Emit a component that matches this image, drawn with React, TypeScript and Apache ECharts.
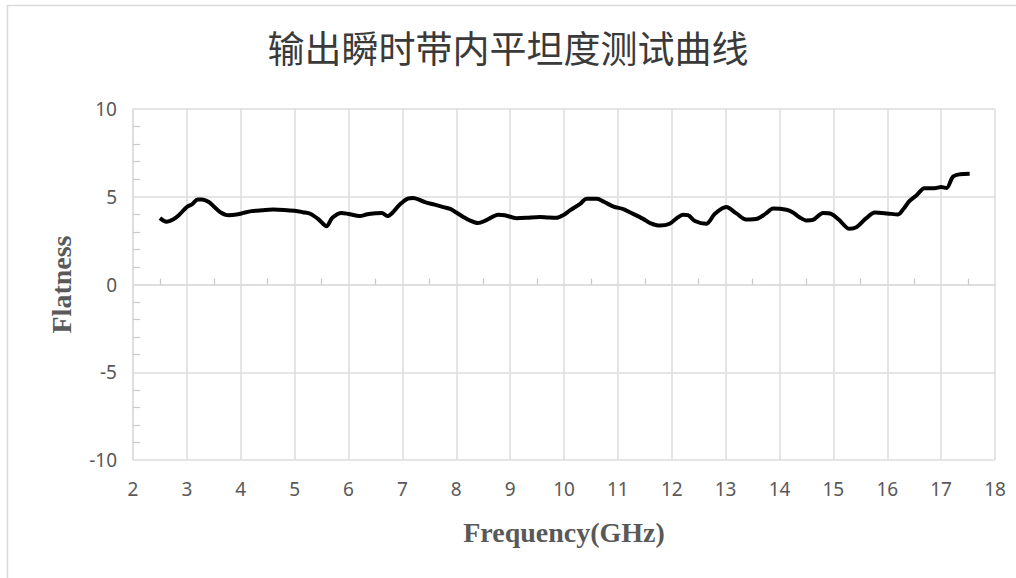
import React, { useEffect, useRef } from "react";
import * as echarts from "echarts";

const titleText = "输出瞬时带内平坦度测试曲线";
const xName = "Frequency(GHz)";
const yName = "Flatness";

const freq = [
  2.5, 2.62, 2.75, 2.85, 3.0, 3.1, 3.2, 3.28, 3.4, 3.5, 3.62, 3.77, 3.95, 4.05, 4.2, 4.4, 4.6, 4.8,
  5.0, 5.15, 5.3, 5.45, 5.59, 5.7, 5.87, 6.0, 6.21, 6.35, 6.52, 6.62, 6.72, 6.82, 6.95, 7.1, 7.2,
  7.42, 7.6, 7.76, 7.9, 8.0, 8.13, 8.25, 8.4, 8.55, 8.78, 8.9, 9.12, 9.3, 9.55, 9.7, 9.86, 10.0,
  10.11, 10.3, 10.42, 10.61, 10.75, 10.92, 11.1, 11.22, 11.47, 11.6, 11.78, 11.96, 12.1, 12.21,
  12.3, 12.43, 12.64, 12.8, 13.01, 13.2, 13.38, 13.6, 13.75, 13.88, 14.13, 14.25, 14.37, 14.5,
  14.62, 14.81, 14.96, 15.1, 15.3, 15.43, 15.6, 15.77, 16.0, 16.2, 16.3, 16.41, 16.55, 16.69,
  16.88, 17.0, 17.1, 17.22, 17.35, 17.53,
];

const flatness = [
  3.78, 3.58, 3.72, 3.95, 4.42, 4.58, 4.85, 4.85, 4.72, 4.45, 4.12, 3.95, 4.0, 4.08, 4.18, 4.23, 4.27, 4.25,
  4.2, 4.12, 4.02, 3.7, 3.32, 3.8, 4.08, 4.02, 3.9, 4.0, 4.06, 4.08, 3.9, 4.1, 4.55, 4.9, 4.93,
  4.69, 4.55, 4.41, 4.3, 4.1, 3.85, 3.65, 3.5, 3.65, 3.98, 3.95, 3.78, 3.8, 3.85, 3.82, 3.8, 3.98,
  4.22, 4.6, 4.88, 4.88, 4.7, 4.44, 4.3, 4.12, 3.74, 3.5, 3.36, 3.46, 3.8, 3.97,
  3.95, 3.62, 3.46, 4.03, 4.41, 4.05, 3.7, 3.76, 4.05, 4.33, 4.26, 4.1, 3.83, 3.65,
  3.68, 4.08, 4.03, 3.7, 3.17, 3.27, 3.75, 4.1, 4.05, 3.99, 4.3, 4.75, 5.1, 5.49,
  5.49, 5.55, 5.5, 6.15, 6.28, 6.31,
];

const xMin = 2;
const xMax = 18;
const xStep = 1;
const yMin = -10;
const yMax = 10;
const yStep = 5;

export default function App() {
  const ref = useRef<HTMLDivElement>(null);

  useEffect(() => {
    if (!ref.current) return;
    const chart = echarts.init(ref.current, null, { renderer: "svg" });
    const gridColor = "#dcdcdc";
    const labelColor = "#595959";
    chart.setOption({
      animation: false,
      backgroundColor: "#ffffff",
      title: {
        text: titleText,
        left: "center",
        top: 23,
        textStyle: {
          fontFamily: "Noto Sans CJK SC",
          fontSize: 37,
          fontWeight: "normal",
          color: "#3a3a3a",
        },
      },
      graphic: [
        {
          type: "rect",
          shape: { x: 7.5, y: 5.5, width: 1030, height: 600 },
          style: { fill: "none", stroke: "#d9d9d9", lineWidth: 1.5 },
          silent: true,
        },
      ],
      grid: { left: 133, right: 21, top: 109, bottom: 118 },
      xAxis: [
        {
          type: "value",
          min: xMin,
          max: xMax,
          interval: xStep,
          position: "bottom",
          axisLine: { show: false, onZero: false },
          axisTick: { show: false },
          axisLabel: {
            margin: 19,
            fontFamily: "Noto Sans",
            fontSize: 19,
            color: labelColor,
          },
          splitLine: { show: true, lineStyle: { color: gridColor, width: 1.5 } },
          name: xName,
          nameLocation: "middle",
          nameGap: 58,
          nameTextStyle: {
            fontFamily: "Liberation Serif",
            fontWeight: "bold",
            fontSize: 28,
            color: labelColor,
          },
        },
        {
          type: "value",
          min: xMin,
          max: xMax,
          interval: xStep,
          position: "bottom",
          axisLine: { show: true, onZero: true, lineStyle: { color: gridColor, width: 1.5 } },
          axisTick: { show: false, inside: true },
          minorTick: { show: true, splitNumber: 2, length: 6, lineStyle: { color: "#c8c8c8", width: 1.2 } },
          axisLabel: { show: false },
          splitLine: { show: false },
        },
      ],
      yAxis: {
        type: "value",
        min: yMin,
        max: yMax,
        interval: yStep,
        axisLine: { show: true, onZero: false, lineStyle: { color: gridColor, width: 1.5 } },
        axisTick: { show: false, inside: true },
        minorTick: { show: true, splitNumber: 5, length: 7, lineStyle: { color: "#c8c8c8", width: 1.2 } },
        axisLabel: {
          margin: 16,
          fontFamily: "Noto Sans",
          fontSize: 19,
          color: labelColor,
        },
        splitLine: { show: true, lineStyle: { color: gridColor, width: 1.5 } },
        name: yName,
        nameLocation: "middle",
        nameGap: 58,
        nameRotate: 90,
        nameTextStyle: {
          fontFamily: "Liberation Serif",
          fontWeight: "bold",
          fontSize: 28,
          color: labelColor,
        },
      },
      series: [
        {
          type: "line",
          xAxisIndex: 0,
          data: freq.map((f, i) => [f, flatness[i]]),
          showSymbol: false,
          symbol: "none",
          smooth: 0.3,
          lineStyle: { color: "#000000", width: 4 },
        },
      ],
    });
    return () => chart.dispose();
  }, []);

  return (
    <div
      ref={ref}
      style={{ position: "fixed", left: 0, top: 0, width: 1016, height: 578 }}
    />
  );
}
